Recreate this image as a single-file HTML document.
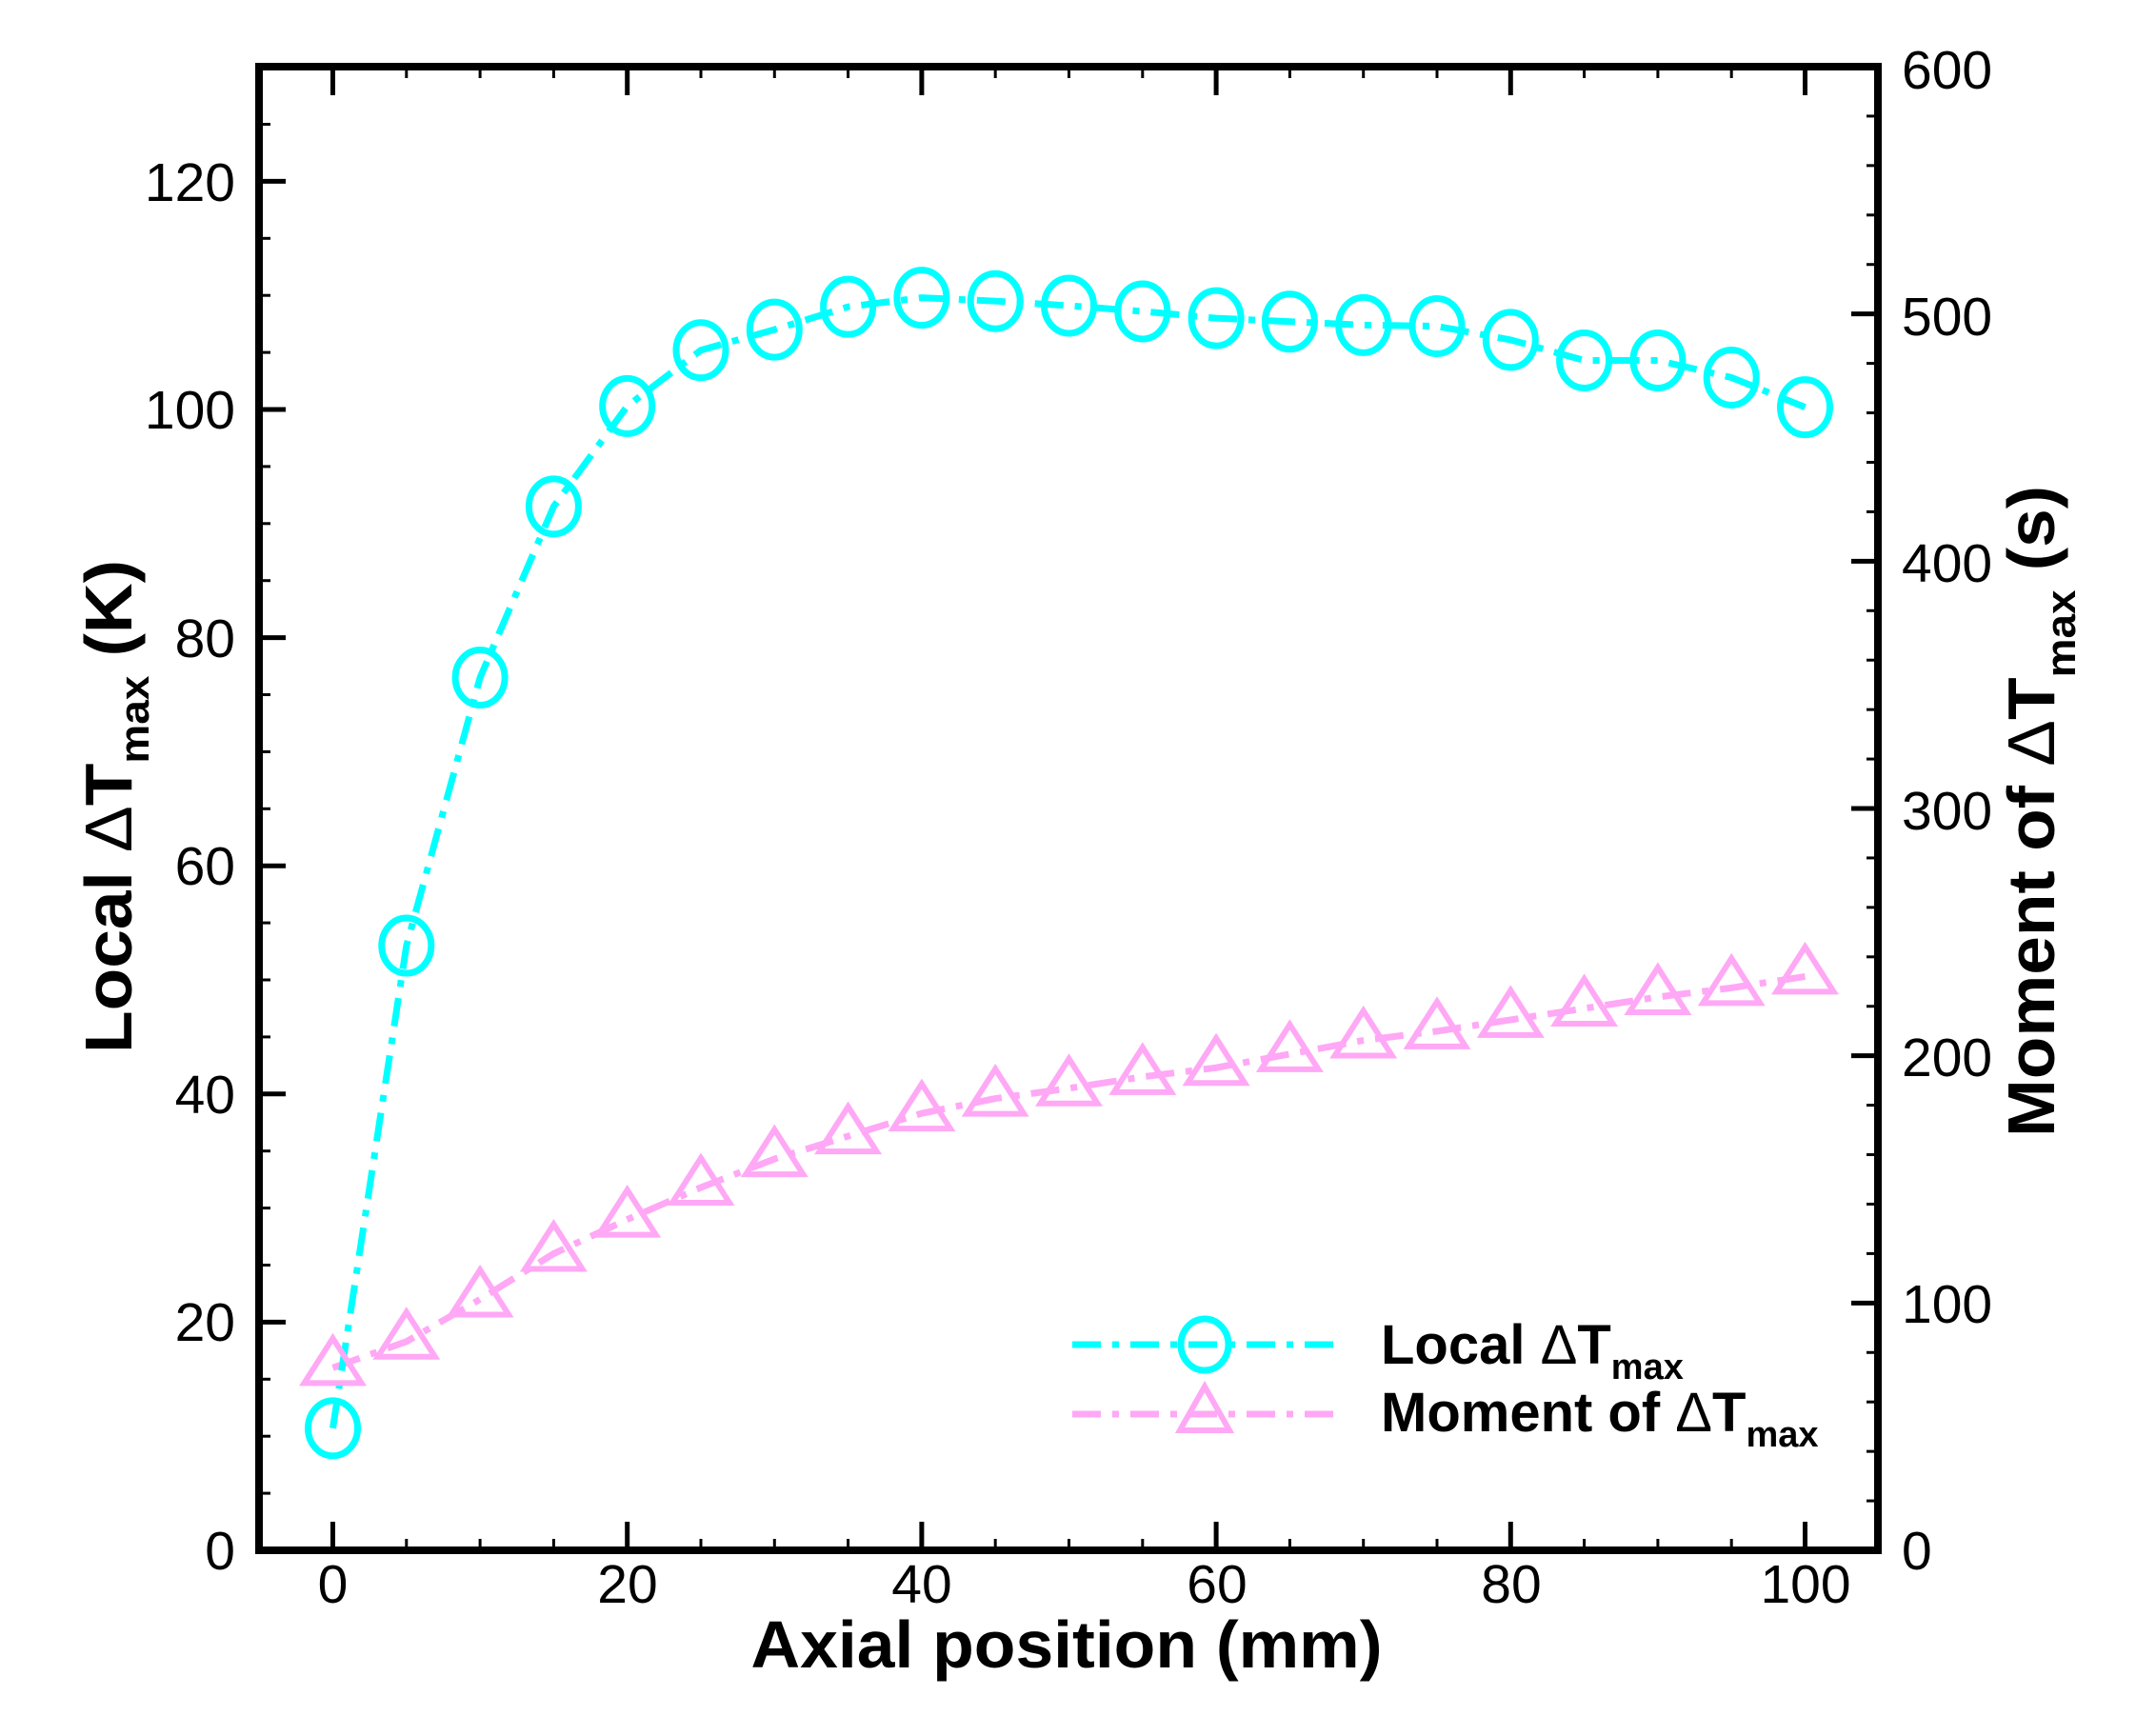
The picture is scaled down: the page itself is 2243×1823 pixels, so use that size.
<!DOCTYPE html>
<html><head><meta charset="utf-8"><style>
html,body{margin:0;padding:0;background:#fff;}
svg{display:block;}
text{font-family:"Liberation Sans",Arial,sans-serif;}
</style></head><body>
<svg width="2243" height="1823" viewBox="0 0 2243 1823" xmlns="http://www.w3.org/2000/svg">
<g id="ticks" stroke="#000" stroke-width="4"></g>
<g id="series"></g>
<rect x="272" y="70" width="1700" height="1558" fill="none" stroke="#000" stroke-width="8"/>
<g font-size="57" fill="#000" text-anchor="end">
<text x="247" y="1648">0</text>
<text x="247" y="1408">20</text>
<text x="247" y="1169">40</text>
<text x="247" y="929">60</text>
<text x="247" y="690">80</text>
<text x="247" y="450">100</text>
<text x="247" y="211">120</text>
</g>
<g font-size="57" fill="#000" text-anchor="start">
<text x="1997" y="1648">0</text>
<text x="1997" y="1389">100</text>
<text x="1997" y="1130">200</text>
<text x="1997" y="871">300</text>
<text x="1997" y="611">400</text>
<text x="1997" y="352">500</text>
<text x="1997" y="93">600</text>
</g>
<g font-size="57" fill="#000" text-anchor="middle">
<text x="349.5" y="1683">0</text>
<text x="659" y="1683">20</text>
<text x="968" y="1683">40</text>
<text x="1278" y="1683">60</text>
<text x="1587" y="1683">80</text>
<text x="1896" y="1683">100</text>
</g>
<text x="1120" y="1751" font-size="70" font-weight="bold" text-anchor="middle" textLength="663" lengthAdjust="spacingAndGlyphs">Axial position (mm)</text>
<text transform="translate(138,1106) rotate(-90)" font-size="70" font-weight="bold" textLength="518" lengthAdjust="spacingAndGlyphs">Local <tspan font-weight="normal">Δ</tspan>T<tspan font-size="44" dy="18">max</tspan><tspan dy="-18"> (K)</tspan></text>
<text transform="translate(2157,1194) rotate(-90)" font-size="70" font-weight="bold" textLength="684" lengthAdjust="spacingAndGlyphs">Moment of <tspan font-weight="normal">Δ</tspan>T<tspan font-size="44" dy="22">max</tspan><tspan dy="-22"> (s)</tspan></text>
<g id="legend">
<line x1="1126" y1="1412" x2="1401" y2="1412" stroke="#00ffff" stroke-width="7" stroke-dasharray="30,12,7,12"/>
<ellipse cx="1265" cy="1412" rx="25" ry="27" fill="none" stroke="#00ffff" stroke-width="7"/>
<line x1="1126" y1="1485" x2="1401" y2="1485" stroke="#ffa8f5" stroke-width="7" stroke-dasharray="30,12,7,12"/>
<polygon points="1265,1456 1291,1502 1239,1502" fill="none" stroke="#ffa8f5" stroke-width="6"/>
<text x="1450" y="1432" font-size="58" font-weight="bold">Local <tspan font-weight="normal">Δ</tspan>T<tspan font-size="38" dy="16">max</tspan></text>
<text x="1450" y="1503" font-size="58" font-weight="bold">Moment of <tspan font-weight="normal">Δ</tspan>T<tspan font-size="38" dy="16">max</tspan></text>
</g>
</svg>
<script>
(function(){
var NS="http://www.w3.org/2000/svg";
function X(m){return 349.5+15.46*m;}
function Y(v){return 1628-11.98*v;}
var tk=document.getElementById("ticks");
function ln(x1,y1,x2,y2,w){var l=document.createElementNS(NS,"line");l.setAttribute("x1",x1);l.setAttribute("y1",y1);l.setAttribute("x2",x2);l.setAttribute("y2",y2);l.setAttribute("stroke-width",w);tk.appendChild(l);}
for(var v=0;v<=130;v+=5){var y=Y(v);var maj=v%20==0;ln(272,y,272+(maj?28:12),y,maj?5:3);}
for(var s=0;s<=600;s+=20){var y=1628-s*(1558/600);var maj=s%100==0;ln(1972,y,1972-(maj?28:12),y,maj?5:3);}
for(var m=-5;m<=105;m+=5){var x=X(m);if(x<276||x>1968)continue;var maj=m%20==0;ln(x,1628,x,1628-(maj?30:12),maj?5:3);ln(x,70,x,70+(maj?30:12),maj?5:3);}
var loc=[10.7,53,76.5,91.5,100.3,105.2,107,109,109.8,109.5,109.1,108.6,108,107.7,107.4,107.3,106.1,104.3,104.3,102.8,100.2];
var mom=[16,18.3,22,26,29,31.8,34.3,36.3,38.3,39.6,40.5,41.5,42.3,43.5,44.7,45.5,46.5,47.5,48.5,49.3,50.3];
var g=document.getElementById("series");
function poly(arr,col){var p=document.createElementNS(NS,"polyline");p.setAttribute("points",arr.map(function(v,i){return X(i*5)+","+Y(v);}).join(" "));p.setAttribute("fill","none");p.setAttribute("stroke",col);p.setAttribute("stroke-width","7");p.setAttribute("stroke-dasharray","30,12,7,12");g.appendChild(p);}
poly(mom,"#ffa8f5");
poly(loc,"#00ffff");
mom.forEach(function(v,i){var x=X(i*5),y=Y(v);var p=document.createElementNS(NS,"polygon");p.setAttribute("points",x+","+(y-31)+" "+(x+30)+","+(y+16)+" "+(x-30)+","+(y+16));p.setAttribute("fill","none");p.setAttribute("stroke","#ffa8f5");p.setAttribute("stroke-width","6");g.appendChild(p);});
loc.forEach(function(v,i){var e=document.createElementNS(NS,"ellipse");e.setAttribute("cx",X(i*5));e.setAttribute("cy",Y(v));e.setAttribute("rx","26");e.setAttribute("ry","29");e.setAttribute("fill","none");e.setAttribute("stroke","#00ffff");e.setAttribute("stroke-width","7");g.appendChild(e);});
})();
</script>
</body></html>
